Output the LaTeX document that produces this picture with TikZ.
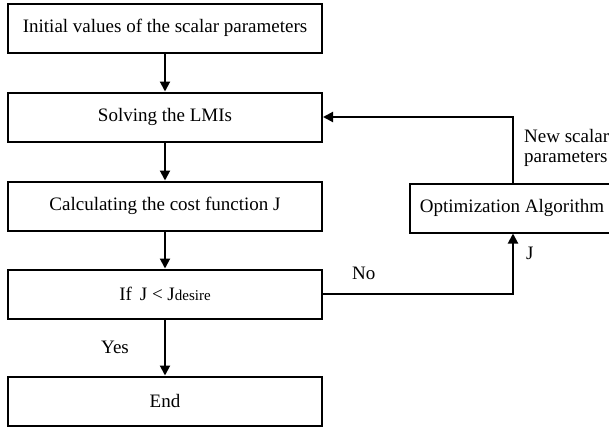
\documentclass[tikz,border=0pt]{standalone}
\usepackage{fontspec}
\setmainfont{Liberation Serif}
\usetikzlibrary{arrows.meta,positioning}
\tikzset{
    %Define standard arrow tip
    >={Triangle[length=10pt,width=10pt]},
    %Define style for boxes
    stage/.style={
           rectangle,
           draw=black, line width=2pt,
           minimum width=314pt,
           minimum height=49pt,
           inner sep=0pt,
           font=\fontsize{19}{22}\selectfont,
           text centered},
    % Define arrow style
    flow/.style={
           ->,
           line width=2pt},
    tag/.style={
           font=\fontsize{19}{22}\selectfont,
           inner sep=0pt}
}

\begin{document}
\begin{tikzpicture}[x=1pt,y=-1pt]
         \useasboundingbox (0,0) rectangle (609,431);
         %nodes
         \node[stage] (init)  at (165,28)  {Initial values of the scalar parameters};
         \node[stage] (lmi)   at (165,117) {Solving the LMIs};
         \node[stage] (cost)  at (165,206) {Calculating the cost function J};
         \node[stage] (check) at (165,294) {If~\,J < J{\fontsize{15}{18}\selectfont desire}};
         \node[stage] (stop)  at (165,401) {End};
         \node[stage, minimum width=206pt] (opt) at (513,208) {\hspace*{-2pt}Optimization Algorithm};
         %labels
         \node[tag, anchor=west] (nolbl)  at (352,273) {No};
         \node[tag, anchor=west] (yeslbl) at (101,347) {Yes};
         \node[tag, anchor=west] (jlbl)   at (526,253) {J};
         \node[tag, anchor=west, align=left] (newlbl) at (524,148) {New scalar\\[-2pt]parameters};
         %arrows
         \draw[flow] (init) -- (lmi);
         \draw[flow] (lmi) -- (cost);
         \draw[flow] (cost) -- (check);
         \draw[flow] (check) -- (stop);
         \draw[flow] (check.east) -| (opt.south);
         \draw[flow] (opt.north) |- (lmi.east);
\end{tikzpicture}
\end{document}
